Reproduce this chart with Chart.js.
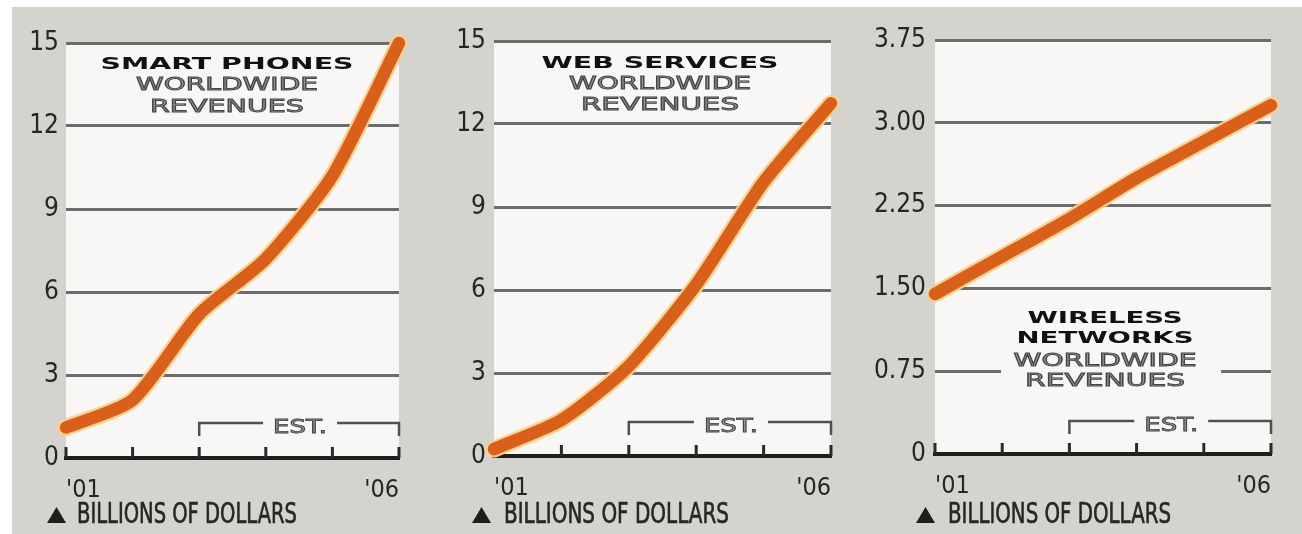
<!DOCTYPE html>
<html><head><meta charset="utf-8">
<script src="https://cdn.jsdelivr.net/npm/chart.js@4.4.1/dist/chart.umd.min.js"></script>
<style>
html,body{margin:0;padding:0;background:#fff;width:1302px;height:534px;overflow:hidden;}
#bg{position:absolute;left:12px;top:7px;width:1290px;height:527px;background:#d5d3ce;}
canvas{position:absolute;top:0;}
</style></head><body>
<div id="bg"></div>
<canvas id="c1" width="434" height="534" style="left:0px"></canvas>
<canvas id="c2" width="434" height="534" style="left:434px"></canvas>
<canvas id="c3" width="434" height="534" style="left:868px"></canvas>
<script>
// ---- data ----
const years = ['2001','2002','2003','2004','2005','2006'];
const xTickLabels = ["'01", "", "", "", "", "'06"];
const smartPhones = [1.1, 2.1, 5.2, 7.2, 10.2, 15.0];
const webServices = [0.25, 1.3, 3.25, 6.2, 9.9, 12.75];
const wirelessNetworks = [1.45, 1.79, 2.13, 2.50, 2.83, 3.16];
const yTicksA = ['0', '3', '6', '9', '12', '15'];
const yTicksB = ['0', '0.75', '1.50', '2.25', '3.00', '3.75'];
const titleSmart = ['SMART PHONES', 'WORLDWIDE', 'REVENUES'];
const titleWeb = ['WEB SERVICES', 'WORLDWIDE', 'REVENUES'];
const titleWireless = ['WIRELESS', 'NETWORKS', 'WORLDWIDE', 'REVENUES'];
const estLabel = 'EST.';
const estRange = ['2003', '2006'];
const unitLabel = 'BILLIONS OF DOLLARS';

// ---- style ----
const NARROW = '"Liberation Sans Narrow","DejaVu Sans Condensed","Arial Narrow",sans-serif';
const WIDE = '"DejaVu Sans",Verdana,sans-serif';

function stretchText(ctx, text, cx, baseY, targetW, font, fill, stroke, lw, align) {
  ctx.save();
  ctx.font = font;
  const w = ctx.measureText(text).width;
  const s = targetW / w;
  ctx.translate(cx, baseY);
  ctx.scale(s, 1);
  ctx.textAlign = align || 'center';
  ctx.textBaseline = 'alphabetic';
  ctx.fillStyle = fill;
  ctx.fillText(text, 0, 0);
  if (stroke) { ctx.strokeStyle = stroke; ctx.lineWidth = lw; ctx.strokeText(text, 0, 0); }
  ctx.restore();
}

const deco = {
  id: 'deco',
  beforeDraw(chart, args, o) {
    const {ctx, chartArea: a} = chart;
    ctx.save();
    ctx.fillStyle = '#f8f7f5';
    ctx.fillRect(a.left, a.top, a.right - a.left, a.bottom - a.top);
    ctx.restore();
  },
  beforeDatasetsDraw(chart, args, o) {
    const {ctx, chartArea: a, scales: {x}} = chart;
    ctx.save();
    if (o.box) {
      ctx.fillStyle = '#f8f7f5';
      ctx.fillRect(o.box[0], o.box[1], o.box[2], o.box[3]);
    }
    o.title.forEach((t, i) => {
      const L = o.lines[i];
      if (L.bold) stretchText(ctx, t, o.cx, L.y, L.w, 'bold ' + L.size + 'px ' + WIDE, '#111');
      else stretchText(ctx, t, o.cx, L.y, L.w, L.size + 'px ' + WIDE, '#959595', '#444', 0.9);
    });
    // EST bracket
    const x0 = x.getPixelForValue(years.indexOf(estRange[0]));
    const x1 = x.getPixelForValue(years.indexOf(estRange[1]));
    const by = o.estY;
    const mid = (x0 + x1) / 2;
    ctx.strokeStyle = '#505050';
    ctx.lineWidth = 2.5;
    ctx.beginPath();
    ctx.moveTo(x0, by + 13); ctx.lineTo(x0, by); ctx.lineTo(mid - 36, by);
    ctx.moveTo(mid + 38, by); ctx.lineTo(x1, by); ctx.lineTo(x1, by + 13);
    ctx.stroke();
    stretchText(ctx, estLabel, mid + 1, by + 10, 54, '19px ' + WIDE, '#959595', '#444', 0.9);
    // inner ticks on the baseline
    ctx.strokeStyle = '#2a2a2a';
    ctx.lineWidth = 3;
    years.forEach((y, i) => {
      const px = x.getPixelForValue(i);
      ctx.beginPath(); ctx.moveTo(px, a.bottom); ctx.lineTo(px, a.bottom - 11); ctx.stroke();
    });
    ctx.restore();
  },
  afterDraw(chart, args, o) {
    const {ctx} = chart;
    ctx.save();
    ctx.fillStyle = '#1e1e1e';
    ctx.beginPath();
    ctx.moveTo(o.triX, 523); ctx.lineTo(o.triX + 19, 523); ctx.lineTo(o.triX + 9.5, 507); ctx.closePath();
    ctx.fill();
    stretchText(ctx, unitLabel, o.textX, 523, o.textW, '28px ' + NARROW, '#262626', '#262626', 0.6, 'left');
    ctx.restore();
  }
};

function makeChart(id, data, yMax, yStep, yLabels, layoutCfg, decoCfg) {
  const line = (color, width, order) => ({
    data: data.slice(), borderColor: color, borderWidth: width, pointRadius: 0, order: order,
    tension: 0.22, borderCapStyle: 'round', borderJoinStyle: 'round', clip: false, fill: false
  });
  return new Chart(document.getElementById(id), {
    type: 'line',
    data: {
      labels: years,
      datasets: [line('#d8601a', 12.5, 0), line('rgba(250,208,140,0.95)', 17, 1)]
    },
    options: {
      responsive: false, animation: false, events: [],
      layout: {padding: {left: layoutCfg.padLeft, top: layoutCfg.top, right: 434 - layoutCfg.right, bottom: 0}},
      plugins: {legend: {display: false}, tooltip: {enabled: false}, deco: decoCfg},
      scales: {
        x: {
          grid: {display: false},
          border: {display: true, color: '#1e1e1e', width: 4},
          ticks: {
            autoSkip: false, maxRotation: 0, align: 'inner', padding: 9,
            color: '#262626', font: {family: NARROW, size: 25},
            callback: (v, i) => xTickLabels[i]
          },
          afterFit: s => { s.height = 534 - layoutCfg.bottom; }
        },
        y: {
          min: 0, max: yMax,
          grid: {color: '#6c6c6c', lineWidth: 3, drawTicks: false},
          border: {display: false},
          ticks: {
            stepSize: yStep, padding: layoutCfg.tickPad,
            color: '#262626', font: {family: NARROW, size: 26},
            callback: (v, i) => yLabels[i]
          },
          afterFit: s => { s.width = layoutCfg.left - layoutCfg.padLeft; }
        }
      }
    },
    plugins: [deco]
  });
}

makeChart('c1', smartPhones, 15, 3, yTicksA,
  {padLeft: 4, left: 66, right: 399, top: 43, bottom: 458, tickPad: 7},
  {cx: 227, title: titleSmart, estY: 423, triX: 47, textX: 77, textW: 220,
   lines: [{bold: true, y: 69, w: 253, size: 15}, {y: 90, w: 182, size: 17}, {y: 112, w: 154, size: 17}]});

makeChart('c2', webServices, 15, 3, yTicksA,
  {padLeft: 4, left: 60, right: 397, top: 41, bottom: 456, tickPad: 8},
  {cx: 226, title: titleWeb, estY: 422, triX: 38, textX: 70, textW: 225,
   lines: [{bold: true, y: 68, w: 237, size: 15}, {y: 89, w: 182, size: 17}, {y: 110, w: 158, size: 17}]});

makeChart('c3', wirelessNetworks, 3.75, 0.75, yTicksB,
  {padLeft: 4, left: 67, right: 403, top: 40, bottom: 454, tickPad: 9},
  {cx: 237, title: titleWireless, estY: 421, triX: 48, textX: 80, textW: 223,
   box: [133, 300, 220, 92],
   lines: [{bold: true, y: 323, w: 155, size: 16}, {bold: true, y: 343, w: 177, size: 16},
           {y: 366, w: 183, size: 17}, {y: 386, w: 160, size: 17}]});
</script>
</body></html>
